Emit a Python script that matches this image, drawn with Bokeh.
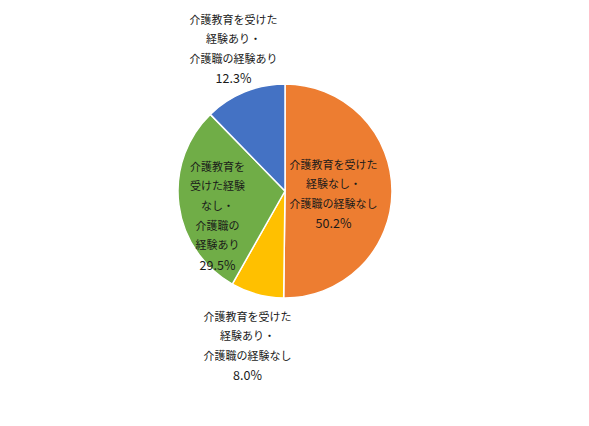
import numpy as np
from bokeh.plotting import figure
from bokeh.models import Range1d, ColumnDataSource
from bokeh.core.properties import value
from bokeh.embed import file_html
from bokeh.resources import INLINE

categories = [
    "介護教育を受けた経験なし・介護職の経験なし",
    "介護教育を受けた経験あり・介護職の経験なし",
    "介護教育を受けた経験なし・介護職の経験あり",
    "介護教育を受けた経験あり・介護職の経験あり",
]
values = [50.2, 8.0, 29.5, 12.3]
label_lines = [
    ["介護教育を受けた", "経験なし・", "介護職の経験なし"],
    ["介護教育を受けた", "経験あり・", "介護職の経験なし"],
    ["介護教育を", "受けた経験", "なし・", "介護職の", "経験あり"],
    ["介護教育を受けた", "経験あり・", "介護職の経験あり"],
]
colors = ["#ED7D31", "#FFC000", "#70AD47", "#4472C4"]

W, H = 573, 410

def px(x, y):
    # screenshot pixel -> data coords
    return x, H - y

cx, cy = px(284.5, 190.5)
R = 107

frac = np.array(values) / sum(values)
cum = np.concatenate([[0], np.cumsum(frac)])
start = np.pi / 2 - cum[:-1] * 2 * np.pi
end = np.pi / 2 - cum[1:] * 2 * np.pi

p = figure(width=W, height=H, output_backend="svg", toolbar_location=None,
           x_range=Range1d(0, W), y_range=Range1d(0, H), min_border=0)
p.axis.visible = False
p.grid.visible = False
p.outline_line_color = None

src = ColumnDataSource(dict(start=start, end=end, color=colors, cat=categories))
p.wedge(x=cx, y=cy, radius=R, radius_units="screen", start_angle="start", end_angle="end",
        direction="clock", fill_color="color", line_color="white", line_width=1.5, source=src)

# label anchor: (center x, first line y) in screenshot pixels
anchors = [(333, 163), (247, 315), (217, 165), (233, 18)]
spacing = 19.7
xs, ys, ts = [], [], []
pxs, pys, pts = [], [], []
for lines, v, (ax, ay) in zip(label_lines, values, anchors):
    for i, t in enumerate(lines):
        x, y = px(ax, ay + i * spacing)
        xs.append(x); ys.append(y); ts.append(t)
    x, y = px(ax, ay + len(lines) * spacing)
    pxs.append(x); pys.append(y); pts.append(f"{v:.1f}%")

p.text(x=xs, y=ys, text=ts, text_font=value("Noto Sans CJK JP"), text_font_size="11px",
       text_align="center", text_baseline="middle", text_color="#1a1a1a")
p.text(x=pxs, y=pys, text=pts, text_font=value("Noto Sans CJK JP"), text_font_size="12.5px",
       text_align="center", text_baseline="middle", text_color="#1a1a1a")

open("out.html", "w").write(file_html(p, INLINE))
